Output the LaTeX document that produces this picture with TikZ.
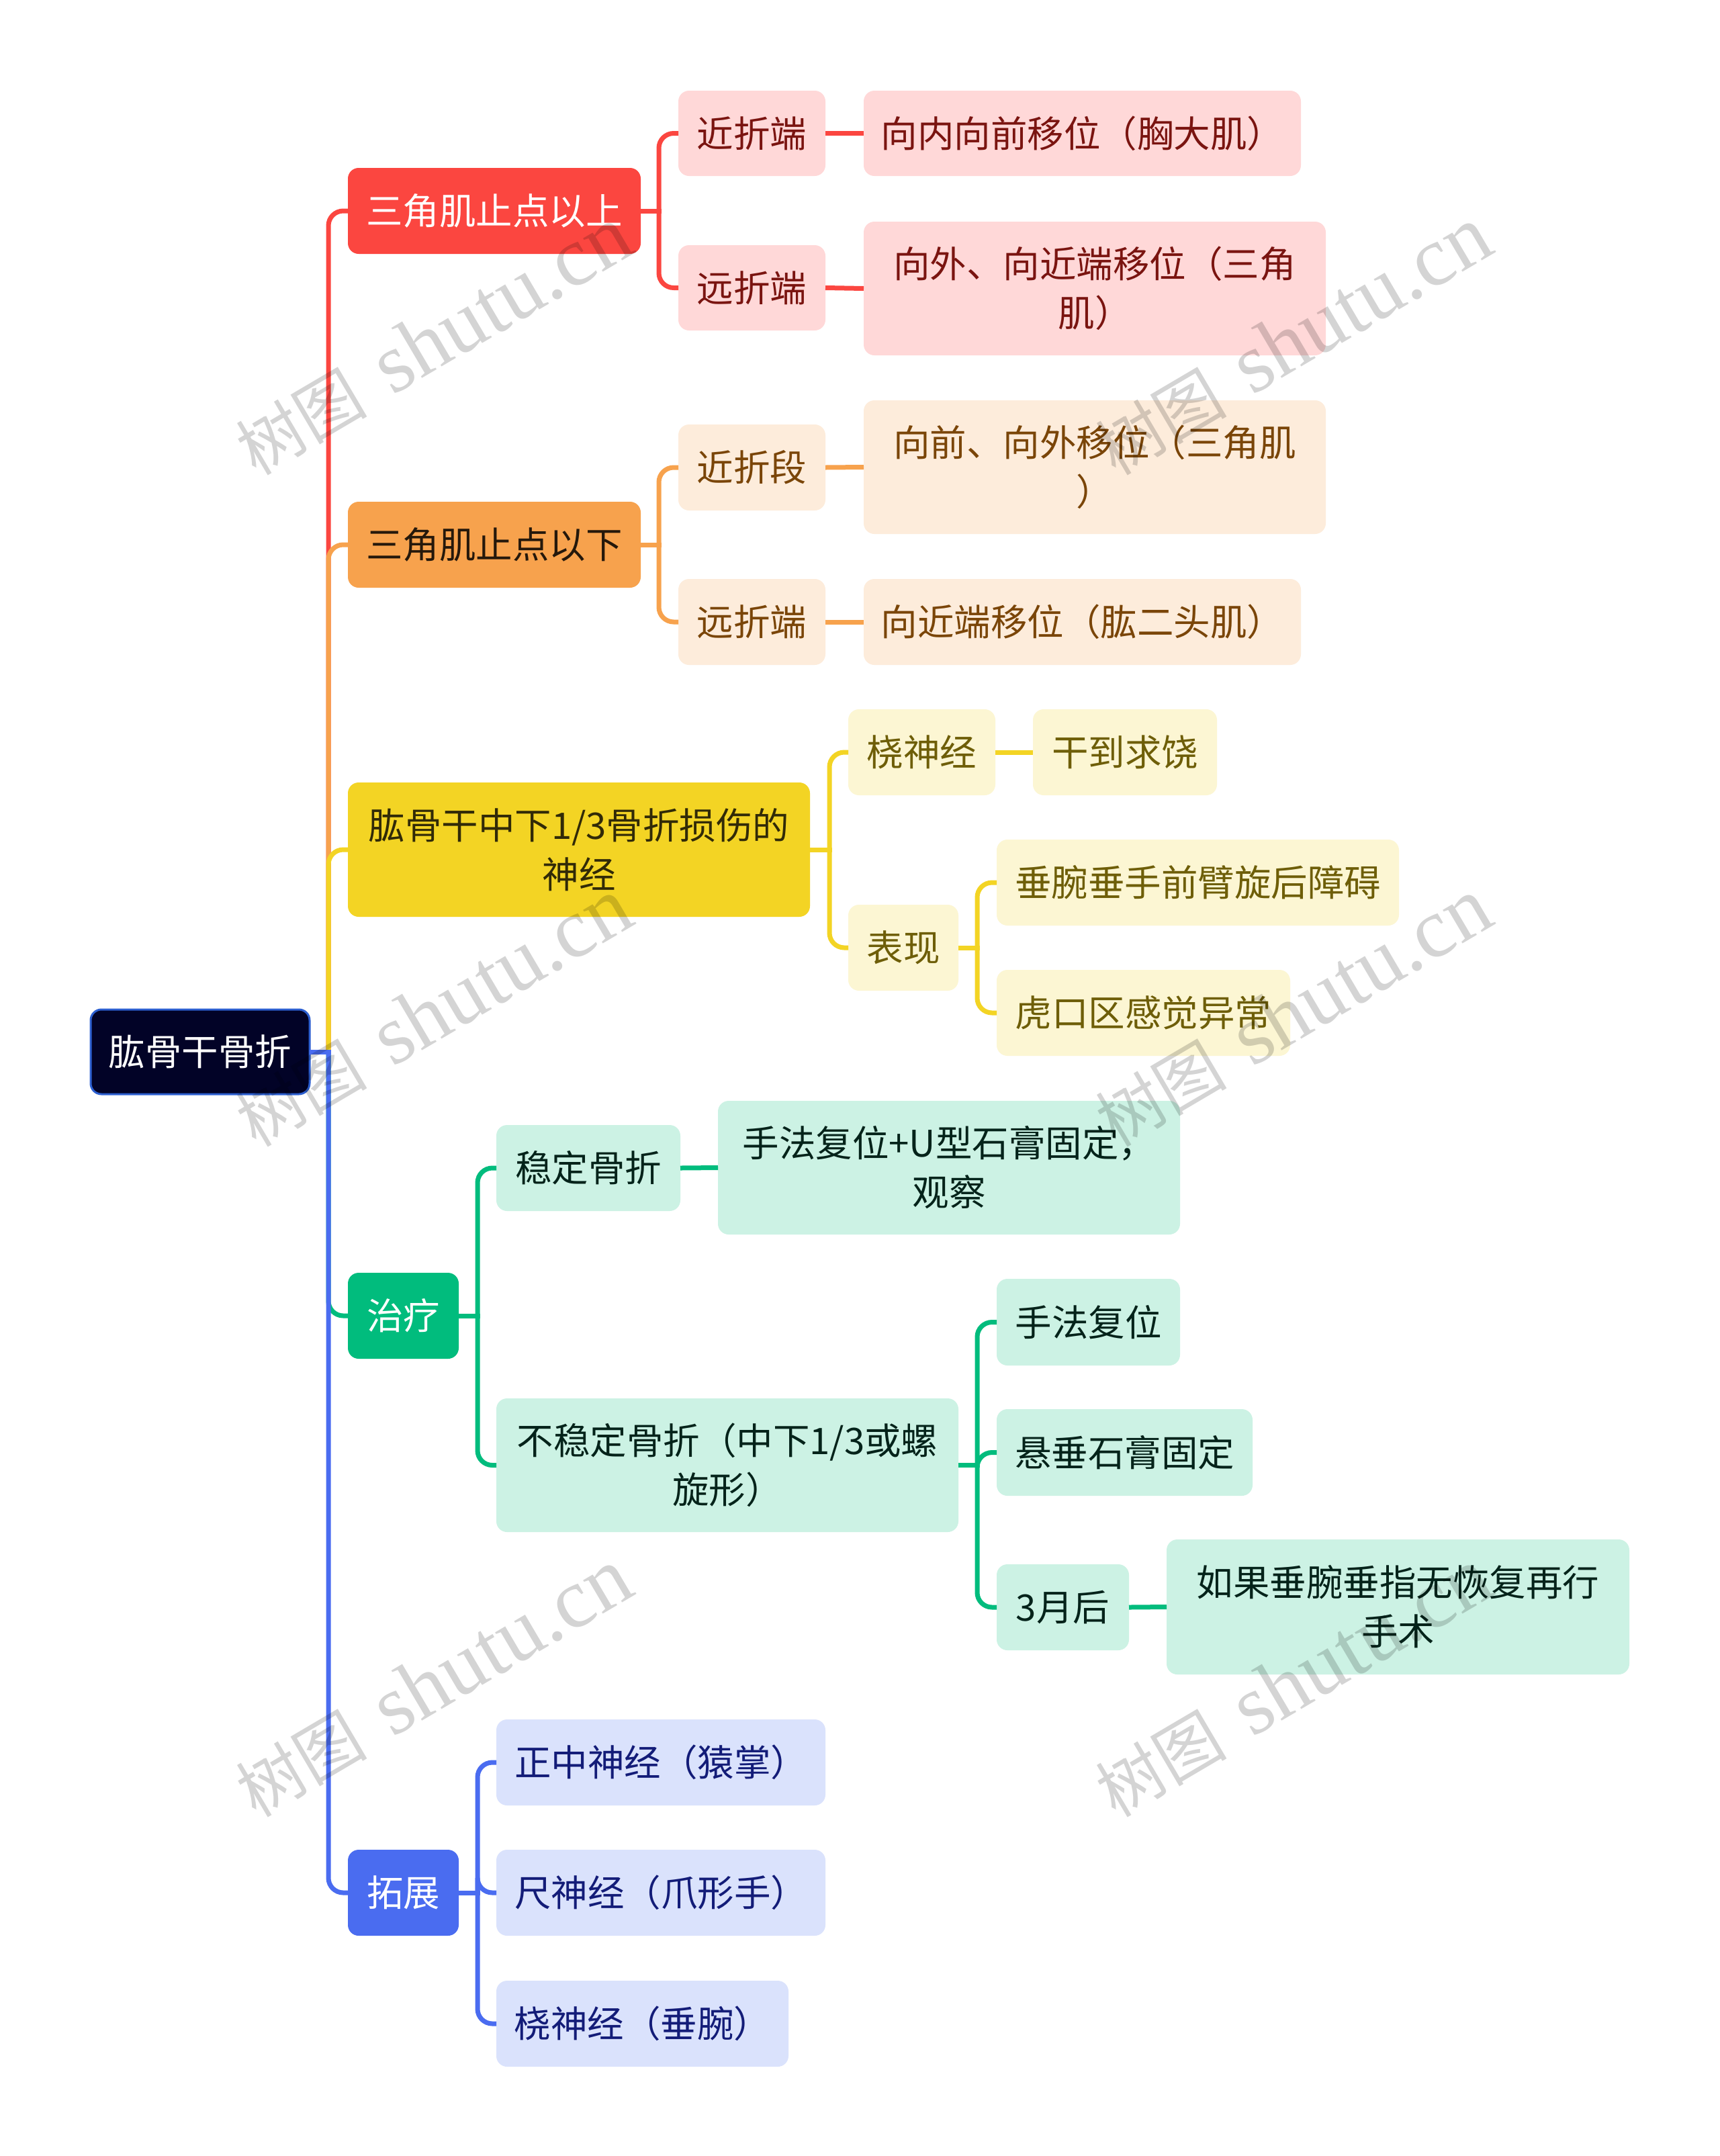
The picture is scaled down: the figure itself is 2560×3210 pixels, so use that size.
\documentclass[tikz,border=0pt]{standalone}
\usepackage{fontspec}
\setmainfont{Noto Sans CJK SC}
\newfontfamily\wmserif{Liberation Serif}
\newcommand{\nb}[7]{\node[#2,minimum width={(#5-#3)*1pt},minimum height={(#6-#4)*1pt}] (#1) at ({(#3+#5)/2},{(#4+#6)/2}) {#7};}
% connector: parent, spine coordinate, child, colour
\newcommand{\cn}[4]{\draw[link,#4] (#1.east) -- ([xshift=3.5pt]#1.east -| #2); \draw[link,#4] (#1.east -| #2) |- (#3.west);}
\newcommand{\wm}[3]{\node[wmark] (#1) at (#2,#3) {\fontsize{98}{98}\selectfont 树图\hspace{40pt}{\wmserif\fontsize{126}{126}\selectfont shutu.cn}};}
\definecolor{cR}{HTML}{FB4640}\definecolor{cRl}{HTML}{FFD8D8}\definecolor{tR}{HTML}{7A1410}
\definecolor{cO}{HTML}{F7A24D}\definecolor{cOl}{HTML}{FDECDB}\definecolor{tO}{HTML}{7A4508}
\definecolor{cY}{HTML}{F3D424}\definecolor{cYl}{HTML}{FCF6D3}\definecolor{tY}{HTML}{6E5E08}
\definecolor{cG}{HTML}{01BC7D}\definecolor{cGl}{HTML}{CCF2E4}\definecolor{tG}{HTML}{04231A}
\definecolor{cB}{HTML}{4A6CF0}\definecolor{cBl}{HTML}{DAE2FC}\definecolor{tB}{HTML}{131C78}
\definecolor{cRoot}{HTML}{020327}\definecolor{cRootB}{HTML}{2C5FD0}
\tikzset{
 x=1pt,y=-1pt,
 box/.style={rounded corners=16pt,inner sep=0pt,outer sep=0pt,align=center,font=\fontsize{54.5}{73}\selectfont},
 rootbox/.style={box,fill=cRoot,draw=cRootB,line width=3pt,text=white},
 redmain/.style={box,fill=cR,text=white},
 redsub/.style={box,fill=cRl,text=tR},
 ormain/.style={box,fill=cO,text=black!75!cO!60!black},
 orsub/.style={box,fill=cOl,text=tO},
 yemain/.style={box,fill=cY,text=black!80!cY},
 yesub/.style={box,fill=cYl,text=tY},
 grmain/.style={box,fill=cG,text=white},
 grsub/.style={box,fill=cGl,text=tG},
 blmain/.style={box,fill=cB,text=white},
 blsub/.style={box,fill=cBl,text=tB},
 link/.style={line width=7pt,rounded corners=22pt},
 wmark/.style={inner sep=0pt,rotate=30.5,text=black,text opacity=.17},
}
\begin{document}
\begin{tikzpicture}
\useasboundingbox (0,0) rectangle (2560,3210);
\fill[white] (0,0) rectangle (2560,3210);
\coordinate (sr) at (489,0);
\coordinate (sa) at (981,0);
\coordinate (sb) at (1235,0);
\coordinate (sc) at (1455,0);
\coordinate (sd) at (711,0);
\nb{root}{rootbox}{135}{1503}{461}{1629}{肱骨干骨折}
\nb{n1}{redmain}{518}{250}{954}{378}{三角肌止点以上}
\nb{n11}{redsub}{1010}{135}{1229}{262}{近折端}
\nb{n111}{redsub}{1286}{135}{1937}{262}{向内向前移位（胸大肌）}
\nb{n12}{redsub}{1010}{365}{1229}{492}{远折端}
\nb{n121}{redsub}{1286}{330}{1974}{529}{向外、向近端移位（三角\\肌）}
\nb{n2}{ormain}{518}{747}{954}{875}{三角肌止点以下}
\nb{n21}{orsub}{1010}{632}{1229}{760}{近折段}
\nb{n211}{orsub}{1286}{596}{1974}{795}{向前、向外移位（三角肌\\）}
\nb{n22}{orsub}{1010}{862}{1229}{990}{远折端}
\nb{n221}{orsub}{1286}{862}{1937}{990}{向近端移位（肱二头肌）}
\nb{n3}{yemain}{518}{1165}{1206}{1365}{肱骨干中下1/3骨折损伤的\\神经}
\nb{n31}{yesub}{1263}{1056}{1482}{1184}{桡神经}
\nb{n311}{yesub}{1538}{1056}{1812}{1184}{干到求饶}
\nb{n32}{yesub}{1263}{1347}{1427}{1475}{表现}
\nb{n321}{yesub}{1484}{1250}{2083}{1378}{垂腕垂手前臂旋后障碍}
\nb{n322}{yesub}{1484}{1444}{1921}{1572}{虎口区感觉异常}
\nb{n4}{grmain}{518}{1895}{683}{2023}{治疗}
\nb{n41}{grsub}{739}{1675}{1013}{1803}{稳定骨折}
\nb{n411}{grsub}{1069}{1639}{1757}{1838}{手法复位+U型石膏固定，\\观察}
\nb{n42}{grsub}{739}{2082}{1427}{2281}{不稳定骨折（中下1/3或螺\\旋形）}
\nb{n421}{grsub}{1484}{1904}{1757}{2033}{手法复位}
\nb{n422}{grsub}{1484}{2098}{1865}{2227}{悬垂石膏固定}
\nb{n423}{grsub}{1484}{2329}{1681}{2457}{3月后}
\nb{n4231}{grsub}{1737}{2292}{2426}{2493}{如果垂腕垂指无恢复再行\\手术}
\nb{n5}{blmain}{518}{2754}{683}{2882}{拓展}
\nb{n51}{blsub}{739}{2560}{1229}{2688}{正中神经（猿掌）}
\nb{n52}{blsub}{739}{2754}{1229}{2882}{尺神经（爪形手）}
\nb{n53}{blsub}{739}{2949}{1174}{3077}{桡神经（垂腕）}
% connectors
\cn{root}{sr}{n1}{cR}
\cn{n1}{sa}{n11}{cR}
\cn{n1}{sa}{n12}{cR}
\draw[link,cR] (n11.east) -- (n111.west);
\draw[link,cR] (n12.east) -- (n121.west);
\cn{root}{sr}{n2}{cO}
\cn{n2}{sa}{n21}{cO}
\cn{n2}{sa}{n22}{cO}
\draw[link,cO] (n21.east) -- (n211.west);
\draw[link,cO] (n22.east) -- (n221.west);
\cn{root}{sr}{n3}{cY}
\cn{n3}{sb}{n31}{cY}
\cn{n3}{sb}{n32}{cY}
\draw[link,cY] (n31.east) -- (n311.west);
\cn{n32}{sc}{n321}{cY}
\cn{n32}{sc}{n322}{cY}
\cn{root}{sr}{n4}{cG}
\cn{n4}{sd}{n41}{cG}
\cn{n4}{sd}{n42}{cG}
\draw[link,cG] (n41.east) -- (n411.west);
\cn{n42}{sc}{n421}{cG}
\cn{n42}{sc}{n422}{cG}
\cn{n42}{sc}{n423}{cG}
\draw[link,cG] (n423.east) -- (n4231.west);
\cn{root}{sr}{n5}{cB}
\cn{n5}{sd}{n51}{cB}
\cn{n5}{sd}{n52}{cB}
\cn{n5}{sd}{n53}{cB}
% watermark
\wm{w1}{645}{508}\wm{w2}{1925}{508}
\wm{w3}{645}{1508}\wm{w4}{1925}{1508}
\wm{w5}{645}{2506}\wm{w6}{1925}{2506}
\end{tikzpicture}
\end{document}
